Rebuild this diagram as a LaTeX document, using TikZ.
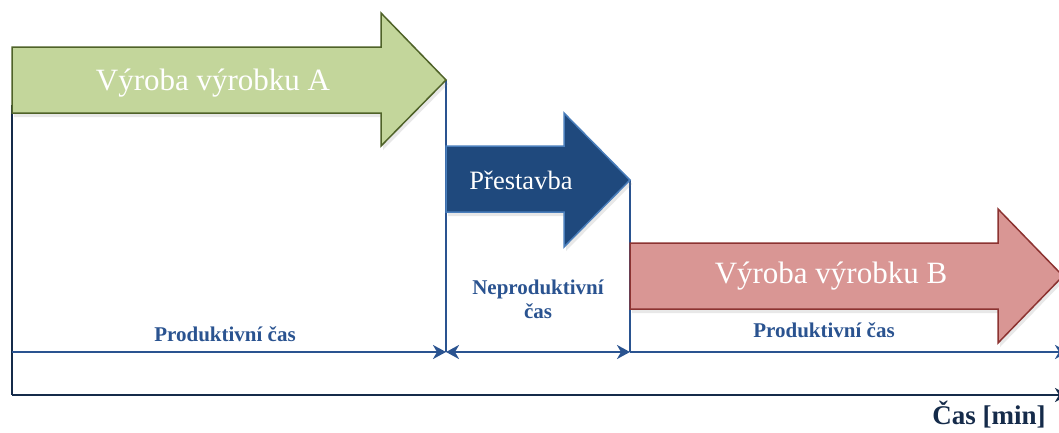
\documentclass[tikz,border=0pt]{standalone}
\usepackage{fontspec}
\setmainfont{Liberation Serif}
\usepackage{tikz}
\usetikzlibrary{arrows.meta, positioning, shadows}
\definecolor{greenfill}{HTML}{C3D69B}
\definecolor{greenedge}{HTML}{4F6228}
\definecolor{bluefill}{HTML}{1F497D}
\definecolor{blueedge}{HTML}{4A7EBB}
\definecolor{redfill}{HTML}{D99694}
\definecolor{rededge}{HTML}{8C3331}
\definecolor{lineblue}{HTML}{2A5390}
\definecolor{navy}{HTML}{152B4A}
\tikzset{
  arrow_shadow/.style={drop shadow={opacity=0.18, shadow xshift=2pt, shadow yshift=-4pt}},
  arrow_green/.style={fill=greenfill, draw=greenedge, line width=1.5pt, arrow_shadow},
  arrow_blue/.style={fill=bluefill, draw=blueedge, line width=1.5pt, arrow_shadow},
  arrow_red/.style={fill=redfill, draw=rededge, line width=1.5pt, arrow_shadow},
  arrow_text/.style={text=white, font=\fontsize{31}{31}\selectfont, anchor=base},
  time_label/.style={text=lineblue, font=\bfseries\fontsize{21}{24}\selectfont, align=center, anchor=base},
  axis_label/.style={text=navy, font=\bfseries\fontsize{27}{27}\selectfont, anchor=base},
  marker/.style={lineblue, line width=2pt},
  time_line/.style={lineblue, line width=2.2pt},
  tip/.style={-{Stealth[length=13pt, width=14pt, inset=4pt]}},
  tips/.style={{Stealth[length=13pt, width=14pt, inset=4pt]}-{Stealth[length=13pt, width=14pt, inset=4pt]}}
}

\begin{document}
\begin{tikzpicture}[x=1pt, y=-1pt]

  \useasboundingbox (0,0) rectangle (1059,432);
  \clip (0,0) rectangle (1059,432);

  % --- Geometry Definitions ---
  \def\yTime{352}
  \def\yAxis{395}

  % --- Key points ---
  \coordinate (tipA) at (446,80);
  \coordinate (tipP) at (630,180);
  \coordinate (startA) at (12,105);
  \coordinate (t0) at (12,\yTime);
  \coordinate (t1) at (446,\yTime);
  \coordinate (t2) at (630,\yTime);
  \coordinate (tEnd) at (1068,\yTime);
  \coordinate (a0) at (12,\yAxis);
  \coordinate (aEnd) at (1068,\yAxis);

  % --- Markers down to the time line ---
  \draw[navy, line width=2.5pt] (startA) -- (a0);
  \draw[marker] (tipA) -- (t1);
  \draw[marker] (tipP) -- (t2);

  % --- Time line ---
  \draw[time_line, tip] (t0) -- (t1);
  \draw[time_line, tips] (t1) -- (t2);
  \draw[time_line, tip] (t2) -- (tEnd);

  % --- Axis ---
  \draw[navy, line width=2.8pt, tip] (a0) -- (aEnd);

  % --- Arrow A (green) ---
  \path[arrow_green] (12,47) -- (381,47) -- (381,13) -- (tipA) -- (381,146)
    -- (381,113) -- (12,113) -- cycle;
  \node[arrow_text] (prodA) at (213,90) {Výroba výrobku A};

  % --- Arrow changeover (blue) ---
  \path[arrow_blue] (446,146) -- (564,146) -- (564,113) -- (tipP) -- (564,247)
    -- (564,212) -- (446,212) -- cycle;
  \node[arrow_text, font=\fontsize{26.5}{26.5}\selectfont] (change) at (521,189) {Přestavba};

  % --- Arrow B (red) ---
  \path[arrow_red] (630,243) -- (998,243) -- (998,209) -- (1063,276) -- (998,343)
    -- (998,309) -- (630,309) -- cycle;
  \node[arrow_text] (prodB) at (831,283) {Výroba výrobku B};

  % --- Labels ---
  \node[time_label] (labA) at (225,341) {Produktivní čas};
  \node[time_label] (labP) at (538,318) {Neproduktivní\\čas};
  \node[time_label] (labB) at (824,337) {Produktivní čas};
  \node[axis_label] (axis) at (989,424) {Čas [min]};

\end{tikzpicture}
\end{document}
